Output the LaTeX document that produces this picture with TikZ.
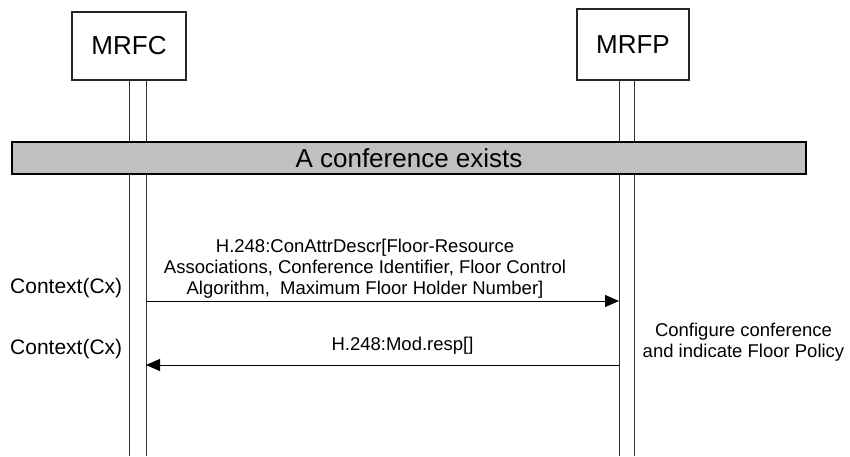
\documentclass[tikz,border=0pt]{standalone}
\usepackage{fontspec}
\setmainfont{Liberation Sans}
\usetikzlibrary{arrows.meta, positioning}
\definecolor{bannergray}{RGB}{192, 192, 192}

\begin{document}
\begin{tikzpicture}[
  x=1pt, y=-1pt,
  entity/.style={
    rectangle, draw=black!85, fill=white, line width=1.2pt,
    inner sep=0pt, font=\fontsize{26}{30}\selectfont
  },
  banner/.style={
    rectangle, draw=black, fill=bannergray, line width=1.2pt,
    minimum width=794pt, minimum height=32pt, inner sep=0pt,
    font=\fontsize{26}{30}\selectfont
  },
  lifeline/.style={line width=0.9pt, color=black!80},
  label/.style={align=center, inner sep=0pt, font=\fontsize{18.5}{21}\selectfont},
  ctx/.style={inner sep=0pt, font=\fontsize{21}{24}\selectfont},
  msg/.style={-{Triangle[length=14pt, width=12pt]}, line width=1pt, color=black}
]
  \useasboundingbox (0,0) rectangle (850,457);

  % entities
  \node[entity, minimum width=114pt, minimum height=68pt] (mrfc) at (129,46) {MRFC};
  \node[entity, minimum width=112pt, minimum height=71pt] (mrfp) at (633,44.5) {MRFP};

  % lifelines
  \coordinate (ca) at (129,80);  \coordinate (cb) at (146,80);
  \coordinate (pa) at (619,80);  \coordinate (pb) at (634,80);
  \coordinate (caend) at (129,456); \coordinate (cbend) at (146,456);
  \coordinate (paend) at (619,456); \coordinate (pbend) at (634,456);
  \draw[lifeline] (ca) -- (caend);
  \draw[lifeline] (cb) -- (cbend);
  \draw[lifeline] (pa) -- (paend);
  \draw[lifeline] (pb) -- (pbend);

  \node[banner] (conf) at (409,158) {A conference exists};

  % messages
  \coordinate (c1) at (146,301); \coordinate (p1) at (619,301);
  \coordinate (c2) at (146,365); \coordinate (p2) at (619,365);
  \node[label, anchor=base] (m1) at (365,294)
    {H.248:ConAttrDescr[Floor-Resource\\Associations, Conference Identifier, Floor Control\\Algorithm,\ \ Maximum Floor Holder Number]};
  \node[label, anchor=base] (m2) at (402.5,350) {H.248:Mod.resp[]};
  \draw[msg] (c1) -- (p1);
  \draw[msg] (p2) -- (c2);

  \node[ctx, anchor=base west] (cx1) at (10,293) {Context(Cx)};
  \node[ctx, anchor=base west] (cx2) at (10,354) {Context(Cx)};
  \node[label, anchor=base] (cfg) at (743.5,357) {Configure conference\\and indicate Floor Policy};
\end{tikzpicture}
\end{document}
